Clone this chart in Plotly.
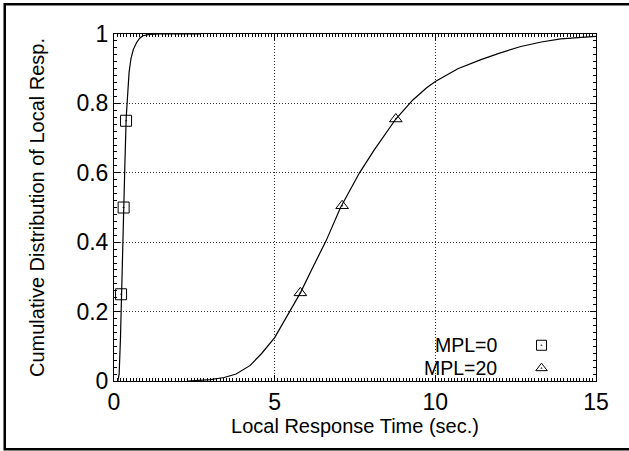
import plotly.graph_objects as go

# MPL=0 curve
mpl0_x = [0.12, 0.16, 0.2, 0.23, 0.27, 0.3, 0.34, 0.38, 0.42, 0.47, 0.53, 0.6, 0.7, 0.8, 0.9, 1.1, 1.4, 2.0, 2.7]
mpl0_y = [0.0, 0.02, 0.12, 0.25, 0.4, 0.5, 0.63, 0.76, 0.83, 0.89, 0.93, 0.955, 0.975, 0.988, 0.995, 0.999, 1.0, 1.0, 1.0]
mpl0_mx = [0.22, 0.30, 0.375]
mpl0_my = [0.25, 0.5, 0.75]

# MPL=20 curve
mpl20_x = [2.3, 3.0, 3.43, 3.8, 4.24, 4.6, 5.0, 5.4, 5.8, 6.2, 6.61, 7.05, 7.64, 8.1, 8.77, 9.3, 9.73, 10.0,
           10.7, 11.42, 12.0, 12.66, 13.3, 13.9, 14.5, 15.0]
mpl20_y = [0.0, 0.004, 0.01, 0.02, 0.045, 0.08, 0.125, 0.19, 0.254, 0.33, 0.406, 0.5, 0.6, 0.666, 0.755, 0.81,
           0.845, 0.863, 0.9, 0.926, 0.945, 0.964, 0.977, 0.986, 0.99, 0.993]
mpl20_mx = [5.8, 7.1, 8.77]
mpl20_my = [0.254, 0.505, 0.755]

labels = ["MPL=0", "MPL=20"]
x_ticks = [0, 5, 10, 15]
y_ticks = [0, 0.2, 0.4, 0.6, 0.8, 1]
y_ticklabels = ["0", "0.2", "0.4", "0.6", "0.8", "1"]

FONT = "Liberation Sans, Arial, sans-serif"
line_style = dict(color="black", width=1.2)

fig = go.Figure()
fig.add_trace(go.Scatter(x=mpl0_x, y=mpl0_y, mode="lines", line=line_style, showlegend=False))
fig.add_trace(go.Scatter(x=mpl20_x, y=mpl20_y, mode="lines", line=line_style, showlegend=False))
fig.add_trace(go.Scatter(x=mpl0_mx, y=mpl0_my, mode="markers", showlegend=False,
                         marker=dict(symbol="square-open-dot", size=11, color="black", line=dict(width=1))))
fig.add_trace(go.Scatter(x=mpl20_mx, y=mpl20_my, mode="markers", showlegend=False,
                         marker=dict(symbol="triangle-up-open-dot", size=11, color="black", line=dict(width=1))))

# key (gnuplot-style: text then symbol), on an overlay axis spanning the plot area
key_sym_x = 0.887
key_y = [0.103, 0.037]
key_text_x = 0.798
fig.add_trace(go.Scatter(x=[key_sym_x], y=[key_y[0]], xaxis="x2", yaxis="y2", mode="markers", showlegend=False,
                         marker=dict(symbol="square-open-dot", size=10, color="black", line=dict(width=1))))
fig.add_trace(go.Scatter(x=[key_sym_x], y=[key_y[1]], xaxis="x2", yaxis="y2", mode="markers", showlegend=False,
                         marker=dict(symbol="triangle-up-open-dot", size=10, color="black", line=dict(width=1))))
for lab, ky in zip(labels, key_y):
    fig.add_annotation(x=key_text_x, y=ky, xref="paper", yref="paper", text=lab, showarrow=False,
                       xanchor="right", yanchor="middle", font=dict(family=FONT, size=19.5, color="black"))

axis_common = dict(showline=True, linecolor="black", linewidth=1, mirror="ticks", ticks="inside",
                   ticklen=6, tickcolor="black", zeroline=False, showgrid=True, gridcolor="#333",
                   gridwidth=1, griddash="1px,2px", tickfont=dict(family=FONT, size=23, color="black"))

fig.update_layout(
    width=629, height=451,
    margin=dict(l=114, r=33, t=34, b=70),
    paper_bgcolor="white", plot_bgcolor="white",
    showlegend=False,
    xaxis=dict(range=[0, 15], tickvals=x_ticks, ticktext=[str(v) for v in x_ticks],
               title=dict(text="Local Response Time (sec.)", font=dict(family=FONT, size=20, color="black"),
                          standoff=0),
               minor=dict(dtick=0.1, ticks="inside", ticklen=3, tickcolor="black", showgrid=False),
               **axis_common),
    yaxis=dict(range=[0, 1], tickvals=y_ticks, ticktext=y_ticklabels,
               title=dict(text="Cumulative Distribution of Local Resp.",
                          font=dict(family=FONT, size=20, color="black"), standoff=26),
               minor=dict(dtick=0.02, ticks="inside", ticklen=3, tickcolor="black", showgrid=False),
               **axis_common),
    xaxis2=dict(range=[0, 1], overlaying="x", visible=False, fixedrange=True),
    yaxis2=dict(range=[0, 1], overlaying="y", visible=False, fixedrange=True),
)

# outer frame (right edge falls outside the image, as in the reference)
fig.add_shape(type="rect", xref="paper", yref="paper", x0=-0.2267, x1=1.08, y0=-0.197, y1=1.086,
              line=dict(color="black", width=2.5), fillcolor="rgba(0,0,0,0)", layer="above")

fig.write_html("out.html")
